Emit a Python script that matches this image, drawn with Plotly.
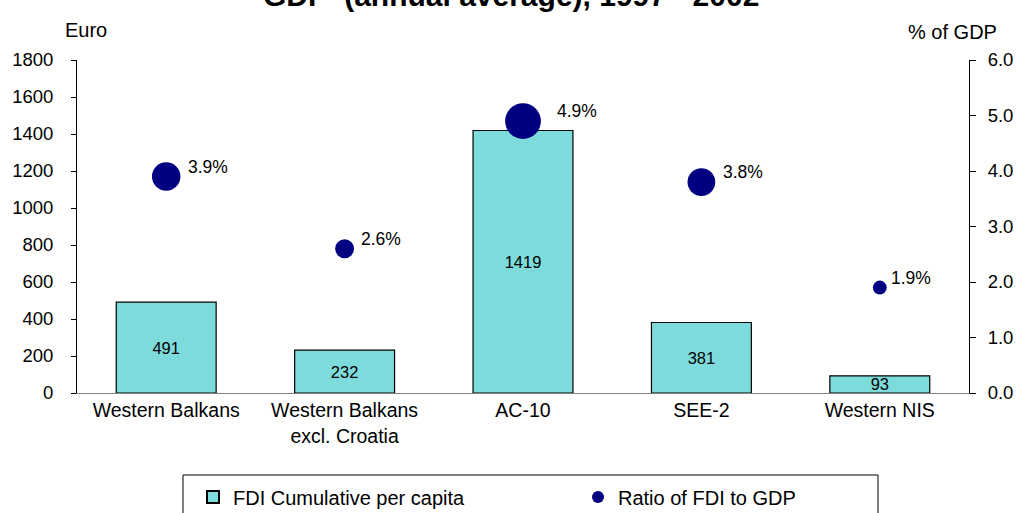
import plotly.graph_objects as go

categories = ["Western Balkans", "Western Balkans<br>excl. Croatia", "AC-10", "SEE-2", "Western NIS"]
fdi_per_capita = [491, 232, 1419, 381, 93]
fdi_ratio = [3.9, 2.6, 4.9, 3.8, 1.9]
left_ticks = [0, 200, 400, 600, 800, 1000, 1200, 1400, 1600, 1800]
right_ticks = [0.0, 1.0, 2.0, 3.0, 4.0, 5.0, 6.0]

# styling: horizontal offset (px) of each percentage label from its bubble centre
label_dx = [21, 15, 33, 21, 10]

FONT = "Arial, Liberation Sans, sans-serif"
W, H = 1020, 513
L, R, T, B = 77, 51, 60, 120
PW, PH = W - L - R, H - T - B

def px_x(p):
    return (p - L) / PW

def px_y(p):
    return (H - B - p) / PH

sizes = [v * 7.3 for v in fdi_ratio]

fig = go.Figure()
fig.add_trace(go.Bar(
    x=categories, y=fdi_per_capita, name="FDI Cumulative per capita",
    width=0.56,
    marker=dict(color="#7ddcdb", line=dict(color="black", width=1.2)),
    text=[str(v) for v in fdi_per_capita], textposition="inside",
    insidetextanchor="middle", textangle=0, constraintext="none",
    textfont=dict(size=16.5, color="black", family=FONT),
    cliponaxis=False,
    yaxis="y",
))
fig.add_trace(go.Scatter(
    x=categories, y=fdi_ratio, name="Ratio of FDI to GDP", mode="markers",
    marker=dict(color="#000080", size=sizes, opacity=1, line=dict(width=0)),
    yaxis="y2",
))

annotations = []
for c, v, dx in zip(categories, fdi_ratio, label_dx):
    annotations.append(dict(
        x=c, y=v, xref="x", yref="y2", text=f"{v:.1f}%", showarrow=False,
        xanchor="left", yanchor="middle", xshift=dx - 1, yshift=10,
        font=dict(size=17.5, family=FONT, color="black"),
    ))
annotations.append(dict(x=px_x(86), y=px_y(30), xref="paper", yref="paper", text="Euro",
                        showarrow=False, xanchor="center", yanchor="middle",
                        font=dict(size=20, family=FONT, color="black")))
annotations.append(dict(x=px_x(952), y=px_y(32), xref="paper", yref="paper", text="% of GDP",
                        showarrow=False, xanchor="center", yanchor="middle",
                        font=dict(size=20, family=FONT, color="black")))
annotations.append(dict(x=px_x(511), y=px_y(-5), xref="paper", yref="paper",
                        text="<b>GDP  (annual average), 1997 - 2002</b>",
                        showarrow=False, xanchor="center", yanchor="middle",
                        font=dict(size=30, family=FONT, color="black")))

fig.update_layout(
    width=W, height=H,
    margin=dict(l=L, r=R, t=T, b=B, pad=0, autoexpand=False),
    paper_bgcolor="white", plot_bgcolor="white",
    font=dict(family=FONT, color="black"),
    showlegend=True,
    legend=dict(orientation="h", xref="container", yref="container",
                x=193 / W, y=1 - 497 / H, xanchor="left", yanchor="middle",
                entrywidth=340, entrywidthmode="pixels",
                font=dict(size=20, family=FONT, color="black"), itemsizing="constant",
                bgcolor="rgba(0,0,0,0)"),
    xaxis=dict(showline=True, linecolor="#808080", linewidth=1, ticks="",
               tickfont=dict(size=19.5, family=FONT, color="black"), showgrid=False,
               automargin=False),
    yaxis=dict(range=[0, 1800], tickvals=left_ticks, showline=True, linecolor="black",
               linewidth=1, ticks="outside", ticklen=5, tickcolor="black", showgrid=False,
               zeroline=False, ticklabelstandoff=14, automargin=False,
               tickfont=dict(size=18.5, family=FONT, color="black")),
    yaxis2=dict(range=[0, 6], tickvals=right_ticks, tickformat=".1f", overlaying="y",
                side="right", showline=True, linecolor="black", linewidth=1, ticks="outside",
                ticklen=6, tickcolor="black", showgrid=False, zeroline=False,
                ticklabelstandoff=8, automargin=False,
                tickfont=dict(size=18.5, family=FONT, color="black")),
    annotations=annotations,
    shapes=[dict(type="rect", xref="paper", yref="paper", x0=px_x(183), x1=px_x(878),
                 y0=px_y(475), y1=px_y(530), line=dict(color="black", width=1),
                 fillcolor="rgba(0,0,0,0)", layer="above")],
)

fig.write_html("out.html", config={"displayModeBar": False},
               post_script="document.body.style.margin='0';document.body.style.overflow='hidden';")
